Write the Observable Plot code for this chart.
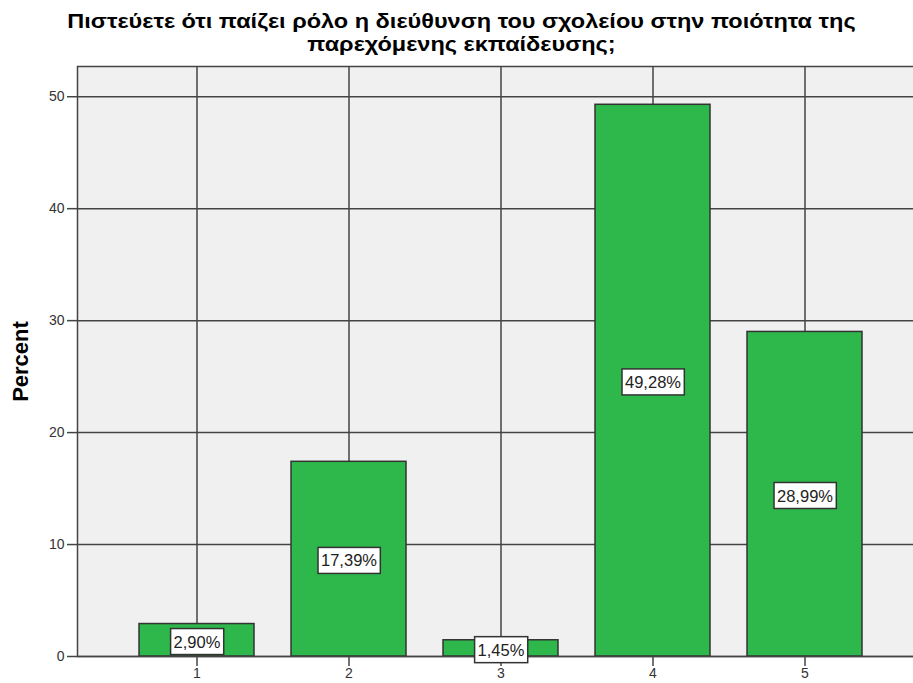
<!DOCTYPE html>
<html>
<head>
<meta charset="utf-8">
<script src="https://cdn.jsdelivr.net/npm/d3@7"></script>
<script src="https://cdn.jsdelivr.net/npm/@observablehq/plot@0.6"></script>
<style>
  html, body { margin: 0; padding: 0; background: #fff; overflow: hidden; width: 913px; height: 683px; }
  #title { width: 913px; height: 60px; box-sizing: border-box; padding-top: 10px; overflow: visible;
    font-family: "Liberation Sans", Arial, sans-serif; font-weight: bold; font-size: 20px;
    line-height: 23.2px; color: #000; white-space: nowrap; }
  #title div { width: 923px; text-align: center; transform: scaleX(1.175); transform-origin: 461.5px 50%; }
  #chart svg { max-width: none !important; display: block; }
</style>
</head>
<body>
<div id="title"><div>Πιστεύετε ότι παίζει ρόλο η διεύθυνση του σχολείου στην ποιότητα της</div><div>παρεχόμενης εκπαίδευσης;</div></div>
<div id="chart"></div>
<script>
const categories = ["1", "2", "3", "4", "5"];
const percents = [2.90, 17.39, 1.45, 49.28, 28.99];
const labels = ["2,90%", "17,39%", "1,45%", "49,28%", "28,99%"];
const yTicks = [0, 10, 20, 30, 40, 50];
const yLabel = "Percent";

const data = categories.map((c, i) => ({cat: c, pct: percents[i], label: labels[i]}));

const chart = Plot.plot({
  width: 923,
  height: 623,
  marginLeft: 77,
  marginRight: 0,
  marginTop: 6,
  marginBottom: 27,
  style: {fontFamily: "'Liberation Sans', Arial, sans-serif", fontSize: "14px", color: "#333", background: "transparent", maxWidth: "none"},
  x: {domain: categories, paddingInner: 0.246, paddingOuter: 0.397, label: null},
  y: {domain: [0, 52.7], label: null, ticks: yTicks},
  marks: [
    Plot.frame({fill: "#f0f0f0"}),
    Plot.gridX({stroke: "#444", strokeOpacity: 1, strokeWidth: 1.5}),
    Plot.gridY(yTicks, {stroke: "#444", strokeOpacity: 1, strokeWidth: 1.5}),
    Plot.barY(data, {x: "cat", y: "pct", fill: "#2eb84b", stroke: "#333", strokeWidth: 1.5}),
    Plot.frame({stroke: "#444", strokeWidth: 1.5}),
    Plot.axisY(yTicks, {tickSize: 10, tickPadding: 3, stroke: "#444", strokeWidth: 1.5, fill: "#333", fontSize: 14, label: null}),
    Plot.axisX({tickSize: 10, tickPadding: 2, stroke: "#444", strokeWidth: 1.5, fill: "#333", fontSize: 14, label: null}),
    Plot.text(data, {x: "cat", y: d => d.pct / 2, text: "label", fill: "#222", fontSize: 16.5, dy: 2, className: "barlabel"}),
    Plot.text([yLabel], {frameAnchor: "left", textAnchor: "middle", dx: -57, rotate: -90, text: d => d, fontSize: 22, fontWeight: "bold", fill: "#000"})
  ]
});
document.getElementById("chart").appendChild(chart);

// Draw white boxes behind the value labels
d3.select(chart).selectAll("g.barlabel text").each(function() {
  const b = this.getBBox();
  const ctm = this.getAttribute("transform");
  const px = 3, h = 26;
  const cy = b.y + b.height / 2;
  d3.select(this.parentNode).insert("rect", () => this)
    .attr("transform", ctm)
    .attr("x", b.x - px).attr("y", cy - h / 2)
    .attr("width", b.width + 2 * px).attr("height", h)
    .attr("fill", "#fff").attr("stroke", "#333").attr("stroke-width", 1.5);
});
</script>
</body>
</html>
